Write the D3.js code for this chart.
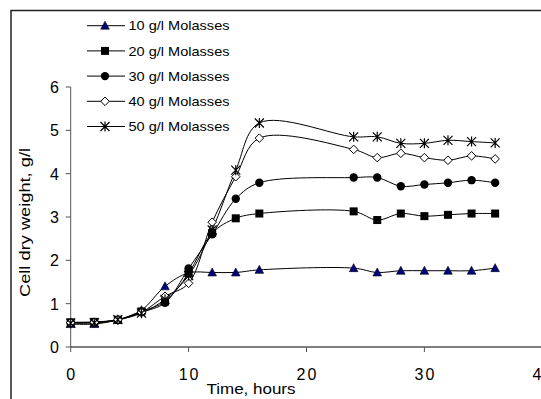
<!DOCTYPE html>
<html>
<head>
<meta charset="utf-8">
<script src="https://cdn.jsdelivr.net/npm/d3@7"></script>
<style>
  body { margin: 0; background: #fff; }
  svg { display: block; font-family: "Liberation Sans", Arial, sans-serif; }
</style>
</head>
<body>
<svg id="chart" width="541" height="399"></svg>
<script>
// sampling times, hours
const hours = [0, 2, 4, 6, 8, 10, 12, 14, 16, 24, 26, 28, 30, 32, 34, 36];

// cell dry weight, g/l
const mol10 = [0.53, 0.53, 0.63, 0.85, 1.40, 1.71, 1.72, 1.72, 1.78, 1.82, 1.72, 1.76, 1.76, 1.76, 1.76, 1.82];
const mol20 = [0.57, 0.58, 0.63, 0.82, 1.05, 1.70, 2.63, 2.97, 3.08, 3.13, 2.93, 3.08, 3.02, 3.05, 3.08, 3.08];
const mol30 = [0.56, 0.56, 0.62, 0.80, 1.02, 1.81, 2.60, 3.42, 3.79, 3.91, 3.91, 3.71, 3.75, 3.79, 3.85, 3.79];
const mol40 = [0.56, 0.57, 0.63, 0.80, 1.17, 1.47, 2.88, 3.93, 4.82, 4.56, 4.37, 4.47, 4.37, 4.31, 4.41, 4.34];
const mol50 = [0.55, 0.56, 0.63, 0.78, 1.10, 1.65, 2.70, 4.08, 5.17, 4.85, 4.85, 4.70, 4.70, 4.77, 4.74, 4.71];

const seriesNames = ['10 g/l Molasses', '20 g/l Molasses', '30 g/l Molasses', '40 g/l Molasses', '50 g/l Molasses'];
const xTicks = [0, 10, 20, 30, 40];
const yTicks = [0, 1, 2, 3, 4, 5, 6];

const series = [
  { name: seriesNames[0], values: mol10, marker: 'triangle' },
  { name: seriesNames[1], values: mol20, marker: 'square' },
  { name: seriesNames[2], values: mol30, marker: 'circle' },
  { name: seriesNames[3], values: mol40, marker: 'diamond' },
  { name: seriesNames[4], values: mol50, marker: 'star' },
];

const svg = d3.select('#chart');

// outer chart frame, runs past the right and bottom edge
svg.append('rect')
  .attr('x', 11).attr('y', 10.5)
  .attr('width', 560).attr('height', 420)
  .attr('fill', 'none')
  .attr('stroke', '#222')
  .attr('stroke-width', 1.5);

const x = d3.scaleLinear().domain([0, 40]).range([70.7, 542.3]);
const y = d3.scaleLinear().domain([0, 6]).range([347, 87]);

// y axis
const yAxis = svg.append('g');
yAxis.append('line')
  .attr('x1', x(0)).attr('x2', x(0))
  .attr('y1', y(6)).attr('y2', y(0))
  .attr('stroke', '#555');
yAxis.selectAll('.ytick')
  .data(yTicks)
  .enter().append('line')
  .attr('x1', x(0) - 5).attr('x2', x(0))
  .attr('y1', d => y(d)).attr('y2', d => y(d))
  .attr('stroke', '#555');
yAxis.selectAll('.ylab')
  .data(yTicks)
  .enter().append('text')
  .attr('x', 59)
  .attr('y', d => y(d) + 6)
  .attr('text-anchor', 'end')
  .style('font-size', '16px')
  .text(d => d);

// x axis
const xAxis = svg.append('g');
xAxis.append('line')
  .attr('x1', x(0)).attr('x2', 541)
  .attr('y1', y(0)).attr('y2', y(0))
  .attr('stroke', '#000');
xAxis.selectAll('.xtick')
  .data(xTicks)
  .enter().append('line')
  .attr('x1', d => x(d)).attr('x2', d => x(d))
  .attr('y1', y(0)).attr('y2', y(0) + 5)
  .attr('stroke', '#555');
xAxis.selectAll('.xlab')
  .data(xTicks)
  .enter().append('text')
  .attr('x', d => x(d) + 1)
  .attr('y', 380)
  .attr('text-anchor', 'middle')
  .style('font-size', '16px')
  .style('letter-spacing', '2px')
  .text(d => d);

// axis titles
svg.append('text')
  .attr('x', 251).attr('y', 394)
  .attr('text-anchor', 'middle')
  .style('font-size', '14.5px')
  .attr('textLength', 89)
  .attr('lengthAdjust', 'spacingAndGlyphs')
  .text('Time, hours');

svg.append('text')
  .attr('transform', 'translate(29.5,222.5) rotate(-90)')
  .attr('text-anchor', 'middle')
  .style('font-size', '14.5px')
  .attr('textLength', 149)
  .attr('lengthAdjust', 'spacingAndGlyphs')
  .text('Cell dry weight, g/l');

// markers
function drawMarker(g, type) {
  if (type === 'triangle') {
    g.append('path').attr('d', 'M0,-4.5L4.3,3.5L-4.3,3.5Z')
      .attr('fill', '#000080').attr('stroke', '#000').attr('stroke-width', 0.6);
  } else if (type === 'square') {
    g.append('rect').attr('x', -4).attr('y', -4).attr('width', 8).attr('height', 8)
      .attr('fill', '#000');
  } else if (type === 'circle') {
    g.append('circle').attr('r', 4.2).attr('fill', '#000');
  } else if (type === 'diamond') {
    g.append('path').attr('d', 'M0,-4.3L4.3,0L0,4.3L-4.3,0Z')
      .attr('fill', '#fff').attr('stroke', '#000').attr('stroke-width', 1);
  } else if (type === 'star') {
    g.append('path').attr('d', 'M-4.5,-4.5L4.5,4.5M-4.5,4.5L4.5,-4.5M0,-5L0,5')
      .attr('stroke', '#000').attr('stroke-width', 1.2).attr('fill', 'none');
  }
}

const line = d3.line()
  .x(d => x(d[0]))
  .y(d => y(d[1]))
  .curve(d3.curveCatmullRom.alpha(0.5));

series.forEach(s => {
  const pts = hours.map((h, i) => [h, s.values[i]]);
  svg.append('path')
    .datum(pts)
    .attr('d', line)
    .attr('fill', 'none')
    .attr('stroke', '#000')
    .attr('stroke-width', 1);
});

series.forEach(s => {
  const pts = hours.map((h, i) => [h, s.values[i]]);
  svg.selectAll(null)
    .data(pts)
    .enter().append('g')
    .attr('transform', d => 'translate(' + x(d[0]) + ',' + y(d[1]) + ')')
    .each(function () { drawMarker(d3.select(this), s.marker); });
});

// legend
const legendG = svg.selectAll('.legend')
  .data(series)
  .enter().append('g')
  .attr('class', 'legend')
  .attr('transform', (d, i) => 'translate(0,' + (25.7 + i * 25.2) + ')');

legendG.append('line')
  .attr('x1', 87).attr('x2', 125)
  .attr('y1', 0).attr('y2', 0)
  .attr('stroke', '#000');

legendG.append('g')
  .attr('transform', 'translate(105,0)')
  .each(function (d) { drawMarker(d3.select(this), d.marker); });

legendG.append('text')
  .attr('x', 128.5)
  .attr('y', 4.7)
  .style('font-size', '13px')
  .attr('textLength', 101)
  .attr('lengthAdjust', 'spacingAndGlyphs')
  .text(d => d.name);
</script>
</body>
</html>
